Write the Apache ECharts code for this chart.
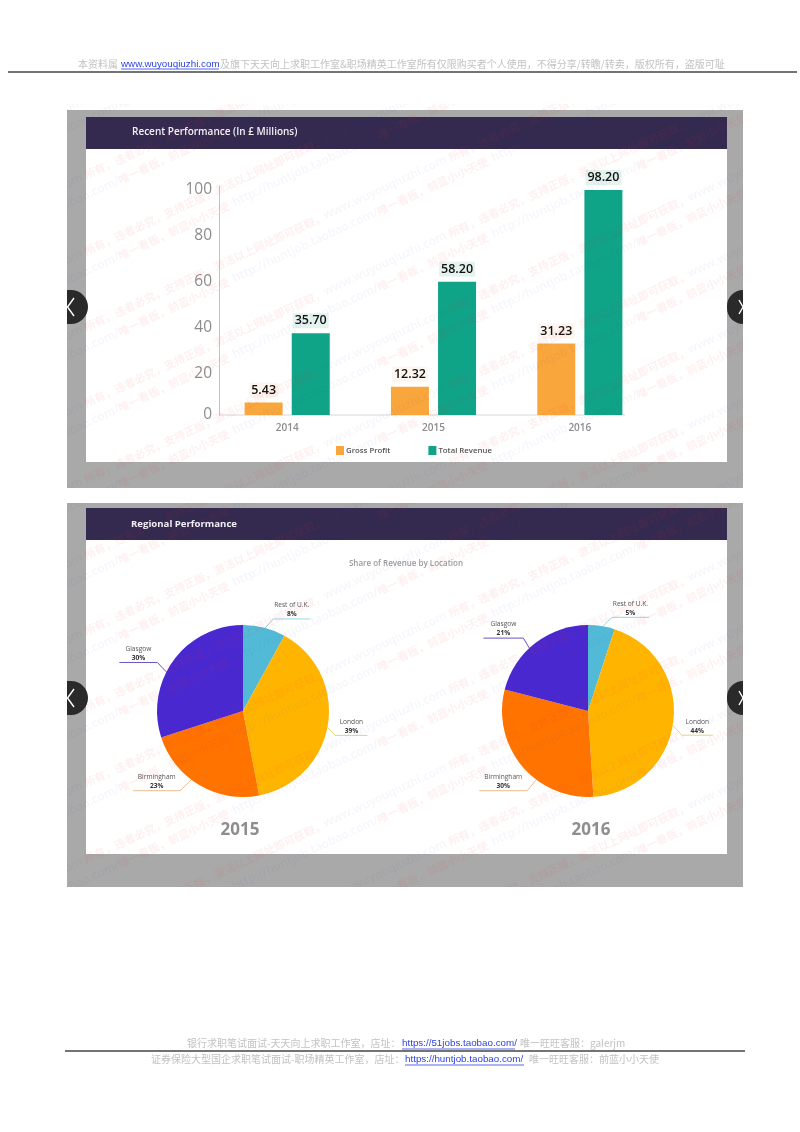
<!DOCTYPE html>
<html><head><meta charset="utf-8">
<style>html,body{margin:0;padding:0;background:#fff}#c{width:800px;height:1132px}</style>
<script src="https://cdn.jsdelivr.net/npm/echarts@6/dist/echarts.min.js"></script>
</head><body><div id="c"></div>
<script>
const years = ['2014','2015','2016'];
const grossProfit = [5.43,12.32,31.23];
const totalRevenue = [35.70,58.20,98.20];
const regions = ['Rest of U.K.','London','Birmingham','Glasgow'];
const share2015 = [8,39,23,30];
const share2016 = [5,44,30,21];
const regionColors = ['#52BAD6','#FFB500','#FF7300','#4A28CF'];
const leaderColors = ['#9AD5E4','#E6D47E','#EBBE92','#6B52C6'];
// leader lines for each region: [attach angle clockwise from top, diagonal dx, diagonal dy, horizontal run]
const leaders2015 = [[15,8,9,37],[101,8,8,32],[217,11,11,47],[297,9,9.5,38]];
const leaders2016 = [[10,9,9,37],[99.5,9,10,31],[217,9,11,48],[317,6,10,40]];
const PIE_R = 86;
const SERIF = '"Noto Sans CJK SC",sans-serif';
const LAT = '"Liberation Sans",sans-serif';
const OS = '"Open Sans",sans-serif';

const chart = echarts.init(document.getElementById('c'),null,{renderer:'canvas',width:800,height:1132});

const g = [];
function rect(x,y,w,h,fill,z,r){g.push({type:'rect',silent:true,z:z||0,shape:{x,y,width:w,height:h,r:r||0},style:{fill}});}
function txt(s,x,y,font,fill,align,z,extra){g.push({type:'text',silent:true,z:z||20,x,y,style:Object.assign({text:s,font,fill,align:align||'left',verticalAlign:'middle'},extra||{})});}
function line(pts,stroke,w,z){g.push({type:'polyline',silent:true,z:z||20,shape:{points:pts},style:{stroke,lineWidth:w,fill:null}});}

// panels
rect(67,110,676,378,'#A9A9A9',0);
rect(86,149,641,313,'#FFFFFF',1);
rect(86,117,641,32,'#342A50',2);
rect(67,503,676,384,'#A9A9A9',0);
rect(86,540,641,314,'#FFFFFF',1);
rect(86,508,641,32,'#342A50',2);
txt('Recent Performance (In £ Millions)',132,132,'600 10px '+OS,'#F2F0F5');
txt('Regional Performance',131,524,'700 9.6px '+OS,'#F2F0F5');
txt('Share of Revenue by Location',406,564,'600 8px '+OS,'#9A9A9A','center');
txt('2015',240,830,'700 17px '+OS,'#8E8E8E','center');
txt('2016',591,830,'700 17px '+OS,'#8E8E8E','center');

// x axis rule, shorter than the category band
line([[219,415],[625,415]],'#D8D8D8',1,3);

// slider arrows
[307,698].forEach(cy=>{
  rect(67,cy-17,21,34,'#2A2A2A',15,[0,17,17,0]);
  rect(727,cy-17,16,34,'#2A2A2A',15,[17,0,0,17]);
  line([[74,cy-9],[67.5,cy],[74,cy+9]],'#FFFFFF',1.4,16);
  line([[739,cy-7],[743,cy],[739,cy+7]],'#FFFFFF',1.4,16);
});

// watermark
const wmA = 'www.wuyouqiuzhi.com ';
const wmB = '所有，违者必究，支持正版，激活以上网址即可获取，';
const wmC = 'http://huntjob.taobao.com/';
const wmD = '唯一看板，前蓝小小天使  ';
const blue = 'rgba(70,90,190,0.055)', red = 'rgba(235,50,50,0.075)';
for(let i=-3;i<12;i++){
  for(let j=0;j<2;j++){
    const yy = 130+i*76+j*14;
    g.push({type:'text',silent:true,z:12,x:-40+j*14,y:yy+180,rotation:25*Math.PI/180,originX:0,originY:0,
      style:{text:j? ('{b|'+wmC+'}{r|'+wmD+'}').repeat(5) : ('{b|'+wmA+'}{r|'+wmB+'}').repeat(5),
        font:'600 12px '+OS,verticalAlign:'middle',
        rich:{b:{fill:blue,font:'600 12px '+OS},r:{fill:red,font:'700 11px "Noto Sans CJK SC"'}}}});
  }
}
// page margins cover the watermark outside the pictures
rect(0,0,800,104,'#FFFFFF',18);
rect(0,887,800,245,'#FFFFFF',18);
rect(0,0,67,1132,'#FFFFFF',18);
rect(743,0,57,1132,'#FFFFFF',18);
rect(67,488,676,15,'#FFFFFF',18);

// page header and footer
const grey='#C2C2C2', link='#2A3FE0';
txt('本资料属',78,64,'10px '+SERIF,grey);
txt('www.wuyouqiuzhi.com ',121,64,'9.8px '+LAT,link);
line([[121,69],[219,69]],link,0.8);
txt('及旗下天天向上求职工作室&职场精英工作室所有仅限购买者个人使用，不得分享/转瞻/转卖，版权所有，盗版可耻',220,64,'10px '+SERIF,grey);
line([[8,72],[797,72]],'#444444',1.3);
txt('银行求职笔试面试-天天向上求职工作室，店址：',187,1043,'10px '+SERIF,grey);
txt('https://51jobs.taobao.com/',402,1043,'9.8px '+LAT,link);
line([[402,1049],[515,1049]],link,0.8);
txt('唯一旺旺客服：galerjm',520,1043,'10px '+SERIF,grey);
line([[65,1051],[745,1051]],'#444444',1.3);
txt('证券保险大型国企求职笔试面试-职场精英工作室，店址：',151,1059,'10px '+SERIF,grey);
txt('https://huntjob.taobao.com/',405,1059,'9.8px '+LAT,link);
line([[405,1065],[524,1065]],link,0.8);
txt('唯一旺旺客服：前蓝小小天使',529,1059,'10px '+SERIF,grey);

function pieSeries(values,center,leaders){
  return {
    type:'pie',z:5,center,radius:PIE_R,startAngle:90,clockwise:true,
    avoidLabelOverlap:false,animation:false,silent:true,
    data:regions.map((n,i)=>({name:n,value:values[i],
      itemStyle:{color:regionColors[i]},
      labelLine:{lineStyle:{color:leaderColors[i],width:1}}})),
    label:{show:true,position:'outside',formatter:'{n|{b}}\n{p|{c}%}',
      rich:{n:{fontFamily:OS,fontSize:6.6,color:'#555',lineHeight:9},
            p:{fontFamily:OS,fontSize:6.6,fontWeight:700,color:'#333',lineHeight:9}}},
    labelLine:{show:true,length:5,length2:5,smooth:false},
    labelLayout(params){
      const l = leaders[params.dataIndex], a = l[0]*Math.PI/180;
      const p0=[center[0]+PIE_R*Math.sin(a),center[1]-PIE_R*Math.cos(a)];
      const sx = Math.sin(a)>=0?1:-1, sy = Math.cos(a)>=0?-1:1;
      const p1=[p0[0]+sx*l[1],p0[1]+sy*l[2]];
      const p2=[p1[0]+sx*l[3],p1[1]];
      return {x:(p1[0]+p2[0])/2,y:p1[1]-9,align:'center',verticalAlign:'middle',
        labelLinePoints:[p0,p1,p2]};
    }
  };
}

const fmt = p => p.value.toFixed(2);
function barSeries(name,values,color,labelBg){
  return {name,type:'bar',barWidth:38,barGap:'24%',z:5,data:values,itemStyle:{color},
    label:{show:true,position:'top',distance:5,formatter:fmt,fontFamily:OS,fontSize:12.5,fontWeight:600,
      color:'#111',backgroundColor:labelBg,padding:[1,2]}};
}

chart.setOption({
  animation:false,
  grid:{left:214,right:147,top:186,bottom:717,containLabel:false},
  legend:{left:336,top:446,padding:0,icon:'rect',itemWidth:8,itemHeight:9,itemGap:38,silent:true,z:6,
    textStyle:{fontFamily:OS,fontSize:7.8,fontWeight:600,color:'#555',padding:[0,0,0,-3]},
    data:['Gross Profit','Total Revenue']},
  xAxis:{type:'category',data:years,z:6,
    axisLine:{show:false},axisTick:{show:false},
    axisLabel:{margin:8,fontFamily:OS,fontSize:10,fontWeight:600,color:'#8c8c8c'}},
  yAxis:{type:'value',min:0,max:100,interval:20,offset:-5,z:6,
    axisLine:{show:true,lineStyle:{color:'#C4C4C4',width:1}},axisTick:{show:false},splitLine:{show:false},
    axisLabel:{margin:7,formatter:v=>v===0?'{z|0}':'{n|'+v+'}',
      rich:{z:{fontFamily:OS,fontSize:15.5,color:'#8c8c8c'},
            n:{fontFamily:OS,fontSize:15.5,color:'#8c8c8c',padding:[8,0,0,0]}}}},
  series:[
    barSeries('Gross Profit',grossProfit,'#F9A63C','rgba(250,225,205,0.35)'),
    barSeries('Total Revenue',totalRevenue,'#0FA388','rgba(190,225,215,0.4)'),
    pieSeries(share2015,[243,711],leaders2015),
    pieSeries(share2016,[588,711],leaders2016)
  ],
  graphic:{elements:g}
});
</script></body></html>
